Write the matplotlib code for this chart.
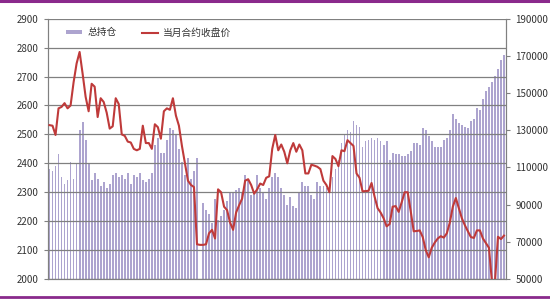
import matplotlib
matplotlib.use("Agg")
import matplotlib.pyplot as plt
from matplotlib.patches import Patch
from matplotlib.lines import Line2D
import numpy as np

plt.rcParams['font.family'] = ['Noto Sans CJK SC', 'DejaVu Sans']

# 当月合约收盘价 (left axis)
price = [2532, 2530, 2498, 2590, 2595, 2608, 2590, 2600, 2680, 2745,
         2785, 2710, 2630, 2580, 2675, 2665, 2560, 2625, 2612, 2575,
         2520, 2528, 2625, 2605, 2500, 2495, 2475, 2472, 2450, 2445,
         2450, 2530, 2470, 2470, 2450, 2535, 2525, 2485, 2580, 2590,
         2585, 2625, 2565, 2530, 2460, 2400, 2340, 2325, 2318, 2120,
         2118, 2118, 2120, 2158, 2170, 2140, 2310, 2300, 2250, 2238,
         2195, 2170, 2230, 2255, 2278, 2340, 2345, 2325, 2295, 2310,
         2330, 2325, 2350, 2355, 2450, 2498, 2445, 2465, 2440, 2400,
         2445, 2470, 2440, 2465, 2445, 2365, 2365, 2395, 2392, 2388,
         2380, 2340, 2325, 2300, 2425, 2415, 2390, 2445, 2442, 2480,
         2470, 2460, 2365, 2350, 2303, 2304, 2305, 2332, 2285, 2245,
         2230, 2210, 2182, 2190, 2250, 2252, 2232, 2265, 2300, 2300,
         2235, 2165, 2166, 2168, 2145, 2100, 2075, 2108, 2126, 2140,
         2148, 2143, 2158, 2195, 2250, 2280, 2245, 2210, 2186, 2165,
         2145, 2142, 2168, 2168, 2140, 2124, 2108, 1990, 1990, 2146,
         2138, 2150]

# 总持仓 (right axis)
oi = [109000, 108000, 111000, 117000, 105000, 101000, 103000, 113000, 104000, 112000,
      130000, 134500, 125000, 112000, 103000, 107000, 104000, 100000, 102000, 99000,
      101000, 106000, 107000, 105000, 106000, 104000, 107000, 101000, 106000, 105000,
      107000, 103000, 102000, 104000, 107000, 122000, 126000, 118000, 118000, 125000,
      131000, 130000, 128000, 120000, 113000, 106000, 115000, 104000, 108000, 115000,
      50000, 91000, 87000, 85000, 80000, 93000, 82000, 84000, 87000, 92000,
      96000, 97000, 98000, 99000, 96000, 106000, 104000, 95000, 97000, 106000,
      99000, 97000, 93000, 99000, 105000, 107000, 105000, 99000, 95000, 90000,
      94000, 89000, 88000, 96000, 102000, 100000, 100000, 95000, 93000, 102000,
      100000, 100000, 99000, 101000, 105000, 109000, 114000, 123000, 128000, 130000,
      129000, 134800, 133000, 132000, 121000, 124000, 125000, 126000, 125000, 126000,
      124000, 122000, 124000, 114000, 118000, 117000, 117000, 116000, 116000, 117000,
      119000, 123000, 123000, 122000, 131000, 130000, 127000, 124000, 121000, 121000,
      121000, 125000, 126000, 130000, 139000, 136000, 134000, 133000, 132000, 131000,
      135000, 136000, 142000, 141000, 147000, 151000, 153000, 156000, 159000, 163000,
      168000, 170500]

bar_color = '#ada4cf'
line_color = '#bf3a3a'
grid_color = '#808080'

x = np.arange(len(price))

fig = plt.figure(figsize=(5.5, 3), dpi=100)
ax = fig.add_axes([48 / 550, 21 / 300, 457.5 / 550, 260.3 / 300])
ax2 = ax.twinx()

ax2.bar(x, np.array(oi) - 50000, bottom=50000, width=0.6, color=bar_color, linewidth=0)
ax2.set_ylim(50000, 190000)
ax2.set_yticks(np.arange(50000, 190001, 20000))

ax.set_zorder(ax2.get_zorder() + 1)
ax.patch.set_visible(False)
ax.plot(x, price, color=line_color, lw=1.5, zorder=3)
ax.set_ylim(2000, 2900)
ax.set_yticks(np.arange(2000, 2901, 100))
ax.set_xlim(-0.5, len(price) - 0.5)
ax.set_xticks([])
ax.yaxis.grid(True, color=grid_color, lw=0.9)
ax.set_axisbelow(True)

for a in (ax, ax2):
    a.spines['top'].set_visible(False)
    for s in ('left', 'right', 'bottom'):
        a.spines[s].set_color(grid_color)
    a.tick_params(axis='y', colors='#333333', labelsize=7, length=3, width=0.8,
                  color=grid_color, pad=4)
    a.tick_params(axis='x', length=0)

handles = [Patch(facecolor=bar_color, edgecolor='none'),
           Line2D([0], [0], color=line_color, lw=1.5)]
leg = ax.legend(handles, ['总持仓', '当月合约收盘价'], loc='upper left', ncol=2,
                frameon=False, fontsize=7, bbox_to_anchor=(0.02, 1.0),
                handlelength=1.7, handleheight=0.35, columnspacing=2.6,
                handletextpad=0.5)
for t in leg.get_texts():
    t.set_color('#333333')

# purple frame strips
fig.add_artist(Line2D([0, 1], [0.996, 0.996], color='#8a2a8c', lw=2.2,
                      transform=fig.transFigure))
fig.add_artist(Line2D([0, 1], [0.01, 0.01], color='#8a2a8c', lw=2.0,
                      transform=fig.transFigure))

fig.savefig('out.png', dpi=100)
